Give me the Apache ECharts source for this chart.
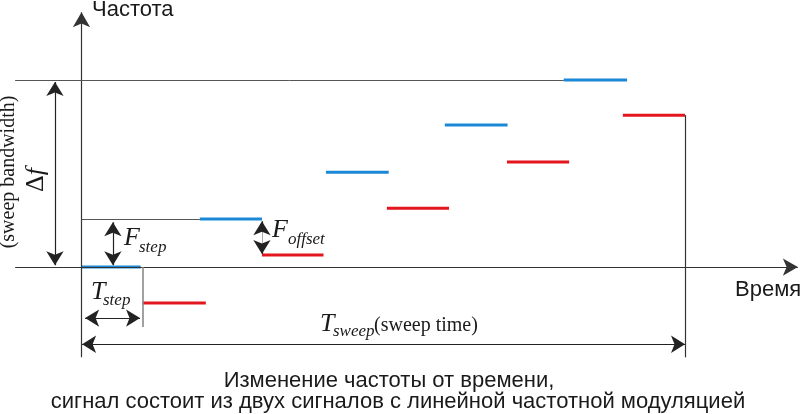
<!DOCTYPE html>
<html>
<head>
<meta charset="utf-8">
<script src="https://cdn.jsdelivr.net/npm/echarts@6/dist/echarts.min.js"></script>
<style>
html,body{margin:0;padding:0;background:#fff;}
#chart{width:800px;height:414px;}
</style>
</head>
<body>
<div id="chart"></div>
<script>
// Time in units of T_step, frequency in units of F_step
const blueStart = [0, 1.96, 4.05, 6.02, 7.99];
const blueEnd   = [0.98, 2.99, 5.09, 7.06, 9.04];
const blueFreq  = [0, 1.03, 2.03, 3.04, 4.0];
const redStart  = [1.01, 2.99, 5.06, 7.05, 8.97];
const redEnd    = [2.06, 4.01, 6.09, 8.08, 10];
const redFreq   = [-0.77, 0.26, 1.26, 2.25, 3.25];

const yAxisName = 'Частота';
const xAxisName = 'Время';
const titleLines = ['Изменение частоты от времени,', 'сигнал состоит из двух сигналов с линейной частотной модуляцией'];

// annotation lines: [t1, f1, t2, f2, startArrow, endArrow, kind]
const annoLines = [
  [0, -1.93, 0, 5.45, 0, 1, 'axis'],        // frequency axis
  [-1.10, 0, 11.87, 0, 0, 1, 'axis'],       // time axis
  [-1.10, 4.0, 7.99, 4.0, 0, 0, 'ref'],     // top of sweep bandwidth
  [0, 1.03, 1.96, 1.03, 0, 0, 'ref'],       // F_step reference
  [-0.44, 0.04, -0.44, 3.96, 1, 1, 'dim'],  // delta f
  [0.52, 0.04, 0.52, 0.96, 1, 1, 'dim'],    // F_step
  [2.99, 0.28, 2.99, 0.98, 0, 0, 'light'],  // F_offset shaft
  [2.99, 0.80, 2.99, 0.98, 0, 1, 'dim'],    // F_offset upper head
  [2.99, 0.46, 2.99, 0.28, 0, 1, 'dim'],    // F_offset lower head
  [0.06, -1.09, 0.97, -1.09, 1, 1, 'dim'],  // T_step
  [1.02, 0, 1.02, -1.28, 0, 0, 'grey'],     // T_step end marker
  [0.01, -1.65, 10, -1.65, 1, 1, 'dim'],    // T_sweep
  [10, 3.25, 10, -1.93, 0, 0, 'axis']       // T_sweep end marker
];

const BLUE = '#1a88d6';
const RED = '#e3161e';
const styles = {
  axis: {color: '#333', width: 1.2, type: 'solid'},
  ref: {color: '#555', width: 1, type: 'solid'},
  dim: {color: '#222', width: 1.2, type: 'solid'},
  light: {color: '#aaa', width: 1, type: 'solid'},
  grey: {color: '#8a8a8a', width: 1.6, type: 'solid'}
};

const markData = annoLines.map(function (l) {
  const size = l[6] === 'axis' ? [13, 15] : [13, 14];
  return [
    {coord: [l[0], l[1]], symbol: l[4] ? 'arrow' : 'none', symbolSize: size, lineStyle: styles[l[6]]},
    {coord: [l[2], l[3]], symbol: l[5] ? 'arrow' : 'none', symbolSize: size}
  ];
});

const series = [];
series.push({
  type: 'line', data: [], symbol: 'none', silent: true, clip: false, z: 1,
  markLine: {silent: true, animation: false, label: {show: false}, symbol: ['none', 'none'],
    symbolSize: [13, 14], emphasis: {disabled: true}, data: markData}
});
function addSegs(starts, ends, freqs, color) {
  for (let i = 0; i < starts.length; i++) {
    series.push({
      type: 'line', silent: true, clip: false, symbol: 'none', z: 3,
      lineStyle: {color: color, width: 3},
      data: [[starts[i], freqs[i]], [ends[i], freqs[i]]]
    });
  }
}
addSegs(blueStart, blueEnd, blueFreq, BLUE);
addSegs(redStart, redEnd, redFreq, RED);

const serif = '"Liberation Serif", "DejaVu Serif", serif';
const sans = '"Liberation Sans", Arial, sans-serif';
function txt(x, y, text, size, family, opts) {
  opts = opts || {};
  return {
    type: 'text', x: x, y: y, rotation: opts.rot || 0, silent: true, z: 10,
    style: {text: text, fontSize: size, fontFamily: family, fontStyle: opts.italic ? 'italic' : 'normal',
      fill: '#1a1a1a', align: opts.align || 'left', verticalAlign: 'middle'}
  };
}

const graphics = [
  txt(92, 10, yAxisName, 22, sans),
  txt(735, 290, xAxisName, 22, sans),
  txt(9, 172, '(sweep bandwidth)', 20, serif, {rot: Math.PI / 2, align: 'center'}),
  {type: 'text', x: 36, y: 180, rotation: Math.PI / 2, silent: true, z: 10,
   style: {text: '{d|Δ}{f|f}', align: 'center', verticalAlign: 'middle',
     rich: {d: {fontSize: 26, fontFamily: serif, fill: '#1a1a1a'},
            f: {fontSize: 26, fontFamily: serif, fontStyle: 'italic', fill: '#1a1a1a'}}}},
  txt(124, 238, 'F', 26, serif, {italic: true}),
  txt(139, 248, 'step', 17, serif, {italic: true}),
  txt(272, 230, 'F', 26, serif, {italic: true}),
  txt(288, 240, 'offset', 17, serif, {italic: true}),
  txt(91, 292, 'T', 26, serif, {italic: true}),
  txt(103, 301, 'step', 17, serif, {italic: true}),
  txt(320, 324, 'T', 26, serif, {italic: true}),
  txt(333, 332, 'sweep', 17, serif, {italic: true}),
  txt(374, 326, '(sweep time)', 20, serif),
  txt(389, 381, titleLines[0], 22, sans, {align: 'center'}),
  txt(398, 402, titleLines[1], 22, sans, {align: 'center'})
];

const chart = echarts.init(document.getElementById('chart'), null, {renderer: 'canvas'});
chart.setOption({
  animation: false,
  backgroundColor: '#fff',
  grid: {left: 9.08, top: 10, width: 790.6, height: 350.6, containLabel: false},
  xAxis: {type: 'value', min: -1.2, max: 11.9, show: false},
  yAxis: {type: 'value', min: -2, max: 5.5, show: false},
  series: series,
  graphic: graphics
});
</script>
</body>
</html>
